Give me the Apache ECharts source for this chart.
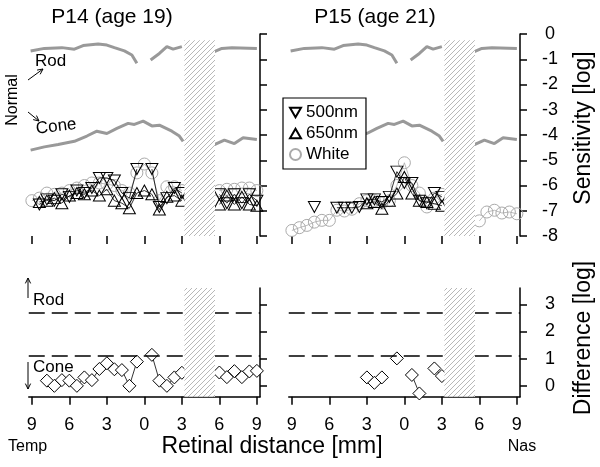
<!DOCTYPE html>
<html><head><meta charset="utf-8">
<script src="https://cdn.jsdelivr.net/npm/echarts@6/dist/echarts.min.js"></script>
<style>html,body{margin:0;padding:0;background:#fff}#c{width:600px;height:467px}</style>
</head><body><div id="c"></div>
<script>
// ---------------- data ----------------
const titles = ['P14 (age 19)', 'P15 (age 21)'];
const xTicks = [-9, -6, -3, 0, 3, 6, 9];
const sensTicks = [0, -1, -2, -3, -4, -5, -6, -7, -8];
const diffTicks = [0, 1, 2, 3];
const hatch = [3.2, 5.65];
// retinal positions (mm, temporal negative)
const positions = [-9.0,-8.4,-7.8,-7.2,-6.6,-6.0,-5.4,-4.8,-4.2,-3.6,-3.0,-2.4,-1.8,-1.2,-0.6,0,0.6,1.2,1.8,2.4,3.0,4.5,6.0,6.6,7.2,7.8,8.4,9.0];
// P14
const p14_500   = [null,-6.75,-6.55,-6.6,-6.35,-6.45,-6.2,-6.3,-6.1,-5.7,-5.7,-5.8,-6.3,-6.5,-5.35,null,-5.35,-6.85,-6.5,-6.1,-6.3,null,-6.35,-6.7,-6.35,-6.7,-6.35,-6.6];
const p14_650   = [null,-6.65,-6.6,-6.5,-6.7,-6.4,-6.3,-6.35,-6.2,-6.4,-6.15,-6.6,-6.7,-6.9,-6.3,-6.2,-6.35,-6.95,-6.45,-6.4,-6.6,null,-6.75,-6.4,-6.75,-6.45,-6.75,-6.8];
const p14_white = [-6.6,-6.5,-6.3,-6.35,-6.3,-6.2,-6.1,-6.0,-5.9,-5.9,-5.95,-6.0,-6.2,-6.3,-5.5,-5.15,-5.5,-6.6,-6.05,-6.05,-6.2,null,-6.2,-6.15,-6.15,-6.1,-6.1,-6.2];
const p14_diff  = [null,null,0.19,0.0,0.21,0.19,0.0,0.31,0.21,0.62,0.83,0.61,0.58,0.0,0.89,null,1.14,0.19,0.0,0.31,0.48,null,0.49,0.32,0.54,0.32,0.53,0.55];
// P15
const p15_500   = [null,null,null,-6.85,null,null,-6.88,-6.88,-6.88,-6.85,-6.55,-6.55,-6.65,-6.45,-5.45,-5.9,-5.9,-6.6,-6.7,-6.3,-6.45,null,null,null,null,null,null,null];
const p15_650   = [null,null,null,null,null,null,null,null,null,null,-6.7,-6.65,-6.92,-6.6,-6.32,-5.66,-6.32,-6.6,-6.65,-6.72,-6.8,null,null,null,null,null,null,null];
const p15_white = [-7.78,-7.67,-7.58,-7.45,-7.38,-7.38,-6.98,-7.01,-6.94,-6.72,-6.6,-6.6,-6.7,-6.6,-6.0,-5.1,-6.0,-6.3,-6.85,-6.5,-6.35,null,-7.4,-7.05,-6.98,-7.09,-7.05,-7.12];
const p15_diff  = [null,null,null,null,null,null,null,null,null,null,0.31,0.11,0.31,null,1.01,null,0.4,-0.28,null,0.64,0.36,null,null,null,null,null,null,null];
// normal curves
const rodX  = [-9.1,-8.0,-6.6,-5.6,-4.9,-3.7,-3.0,-2.4,-1.6,-1.0,-0.6,null,0.5,1.2,1.8,2.3,3.0,null,5.6,6.2,7.0,9.0];
const rodY  = [-0.67,-0.57,-0.54,-0.6,-0.46,-0.4,-0.44,-0.54,-0.67,-0.83,-1.16,null,-1.03,-0.77,-0.5,-0.6,-0.5,null,-0.7,-0.57,-0.54,-0.57];
const coneX = [-9.1,-8.0,-6.9,-5.6,-4.6,-3.8,-3.0,-2.2,-1.3,-0.8,-0.1,0.6,1.2,2.2,2.8,3.1,null,5.6,6.4,7.2,7.9,9.0];
const coneY = [-4.6,-4.47,-4.38,-4.25,-4.04,-3.85,-3.94,-3.74,-3.54,-3.58,-3.45,-3.64,-3.61,-3.85,-4.04,-4.25,null,-4.38,-4.2,-4.34,-4.11,-4.18];
const diffLines = [2.7, 1.1];

// ---------------- helpers ----------------
const FONT = '"Liberation Sans", Arial, sans-serif';
const zip = (xs, ys) => xs.map((x, i) => [x, ys[i]]);
const pat = document.createElement('canvas');
pat.width = 5; pat.height = 5;
(function(){ const c = pat.getContext('2d'); c.fillStyle = '#fff'; c.fillRect(0,0,5,5);
  c.strokeStyle = '#b0b0b0'; c.lineWidth = 0.9; c.beginPath();
  c.moveTo(-1,6); c.lineTo(6,-1); c.moveTo(-1,1); c.lineTo(1,-1); c.moveTo(4,6); c.lineTo(6,4); c.stroke(); })();

const grids = [
  {left: 28.75, top: 34, width: 231.25, height: 202},
  {left: 288.75, top: 34, width: 231.25, height: 202},
  {left: 28.75, top: 288, width: 231.25, height: 108.7},
  {left: 288.75, top: 288, width: 231.25, height: 108.7}
];
const axisLineStyle = {color: '#000', width: 1.5};
const xAxes = grids.map((g, i) => ({
  gridIndex: i, type: 'value', min: -9.25, max: 9.25,
  axisLine: {show: i >= 2, lineStyle: axisLineStyle, onZero: false},
  axisTick: {show: true, customValues: xTicks, length: 8, lineStyle: axisLineStyle},
  axisLabel: {show: i >= 2, customValues: xTicks, formatter: v => String(Math.abs(v)), fontSize: 18, color: '#000', margin: 19, fontFamily: FONT},
  splitLine: {show: false}
}));
const yAxes = grids.map((g, i) => {
  const top = i < 2;
  return {
    gridIndex: i, type: 'value', position: 'right',
    min: top ? -8 : -0.4, max: top ? 0 : 3.6,
    axisLine: {show: true, lineStyle: axisLineStyle, onZero: false},
    axisTick: {show: true, customValues: top ? sensTicks : diffTicks, length: 7, lineStyle: axisLineStyle},
    axisLabel: {show: i % 2 === 1, customValues: top ? sensTicks : diffTicks, fontSize: 18, color: '#000', margin: 30, align: 'center', fontFamily: FONT},
    splitLine: {show: false}
  };
});

function hatchSeries(i, y0, y1) {
  return {
    type: 'custom', xAxisIndex: i, yAxisIndex: i, z: 10, silent: true,
    data: [[hatch[0], hatch[1], y0, y1]],
    renderItem: (params, api) => {
      const p0 = api.coord([api.value(0), api.value(3)]);
      const p1 = api.coord([api.value(1), api.value(2)]);
      return {type: 'rect', shape: {x: p0[0], y: p0[1], width: p1[0] - p0[0], height: p1[1] - p0[1]},
        style: {fill: {image: pat, repeat: 'repeat'}, stroke: null}};
    }
  };
}
const normalSeries = i => [
  {type: 'line', xAxisIndex: i, yAxisIndex: i, data: zip(rodX, rodY), symbol: 'none', lineStyle: {color: '#999', width: 3}, z: 2, silent: true},
  {type: 'line', xAxisIndex: i, yAxisIndex: i, data: zip(coneX, coneY), symbol: 'none', lineStyle: {color: '#999', width: 3}, z: 2, silent: true}
];
const tri = (i, name, vals, down) => ({
  type: 'line', name, xAxisIndex: i, yAxisIndex: i, data: zip(positions, vals),
  symbol: 'triangle', symbolSize: [12, 11], symbolRotate: down ? 180 : 0,
  itemStyle: {color: 'rgba(255,255,255,0)', borderColor: '#000', borderWidth: 1},
  lineStyle: {color: '#000', width: 0.8}, z: 4
});
const circ = (i, name, vals) => ({
  type: 'line', name, xAxisIndex: i, yAxisIndex: i, data: zip(positions, vals),
  symbol: 'circle', symbolSize: 12,
  itemStyle: {color: 'rgba(255,255,255,0)', borderColor: '#aaa', borderWidth: 1},
  lineStyle: {color: '#aaa', width: 0.8}, z: 3
});
const diam = (i, vals) => ({
  type: 'line', xAxisIndex: i, yAxisIndex: i, data: zip(positions, vals),
  symbol: 'diamond', symbolSize: [13, 13],
  itemStyle: {color: '#fff', borderColor: '#000', borderWidth: 1},
  lineStyle: {color: '#000', width: 0.8}, z: 4,
  markLine: {silent: true, symbol: 'none', label: {show: false},
    lineStyle: {color: '#000', width: 1.6, type: [16, 7]},
    data: diffLines.map(v => ({yAxis: v}))}
});

function arrow(x1, y1, x2, y2) {
  const a = Math.atan2(y2 - y1, x2 - x1), L = 6, s = 0.45;
  return [
    {type: 'line', shape: {x1, y1, x2, y2}, style: {stroke: '#000', lineWidth: 1}},
    {type: 'polyline', shape: {points: [[x2 - L*Math.cos(a - s), y2 - L*Math.sin(a - s)], [x2, y2], [x2 - L*Math.cos(a + s), y2 - L*Math.sin(a + s)]]}, style: {stroke: '#000', lineWidth: 1, fill: null}}
  ];
}
const txt = (text, x, y, size, opts = {}) => ({
  type: 'text', x, y, rotation: opts.rot || 0,
  style: {text, x: 0, y: 0, fill: '#000', font: size + 'px ' + FONT,
    align: opts.align || 'center', textAlign: opts.align || 'center', verticalAlign: 'middle', textVerticalAlign: 'middle'}
});

const option = {
  animation: false,
  backgroundColor: '#fff',
  grid: grids,
  xAxis: xAxes,
  yAxis: yAxes,
  legend: {
    left: 283, top: 98, orient: 'vertical', backgroundColor: '#fff', borderColor: '#000', borderWidth: 1.2,
    padding: [6, 8, 6, 6], itemGap: 4, itemWidth: 11, itemHeight: 11, borderRadius: 0, z: 20,
    textStyle: {fontSize: 17, color: '#000', fontFamily: FONT},
    data: [
      {name: '500nm', icon: 'path://M0,0L10,0L5,8.66Z'},
      {name: '650nm', icon: 'path://M5,0L10,8.66L0,8.66Z'},
      {name: 'White', icon: 'circle'}
    ],
    selectedMode: false
  },
  series: [
    ...normalSeries(0), ...normalSeries(1),
    circ(0, 'White', p14_white), tri(0, '500nm', p14_500, true), tri(0, '650nm', p14_650, false),
    circ(1, 'White', p15_white), tri(1, '500nm', p15_500, true), tri(1, '650nm', p15_650, false),
    diam(2, p14_diff), diam(3, p15_diff),
    hatchSeries(0, -8, -0.25), hatchSeries(1, -8, -0.25), hatchSeries(2, -0.4, 3.6), hatchSeries(3, -0.4, 3.6)
  ],
  graphic: [
    txt(titles[0], 112, 17, 21),
    txt(titles[1], 375, 17, 21),
    txt('Sensitivity [log]', 584, 128, 23, {rot: Math.PI / 2}),
    txt('Difference [log]', 584, 338, 23, {rot: Math.PI / 2}),
    txt('Normal', 13, 100, 16, {rot: Math.PI / 2}),
    txt('Rod', 35, 61, 17, {align: 'left'}),
    txt('Cone', 36, 129, 17, {align: 'left', rot: 0.12}),
    txt('Rod', 33, 300, 17, {align: 'left'}),
    txt('Cone', 33, 367, 17, {align: 'left'}),
    txt('Retinal distance [mm]', 272, 447, 23),
    txt('Temp', 8, 447, 16, {align: 'left'}),
    txt('Nas', 522, 447, 16),
    ...arrow(28, 80, 43, 69),
    ...arrow(28, 112, 39, 121),
    ...arrow(28, 298, 28, 278),
    ...arrow(28, 362, 28, 389)
  ]
};
const chart = echarts.init(document.getElementById('c'), null, {renderer: 'canvas'});
chart.setOption(option);
</script></body></html>
